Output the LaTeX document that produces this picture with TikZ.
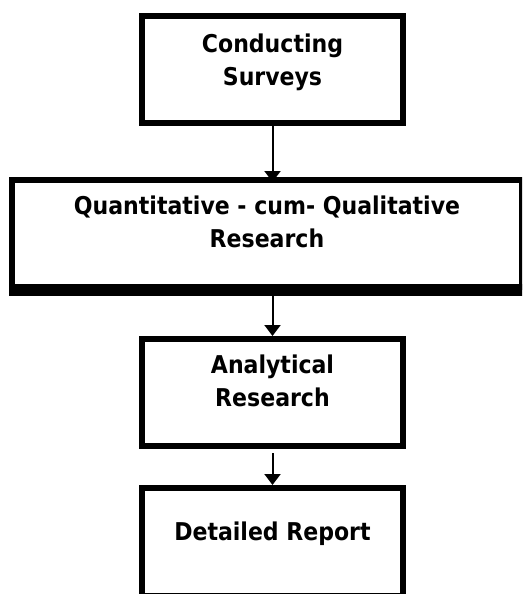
\documentclass[tikz,border=0pt]{standalone}
\usepackage{fontspec}
\setmainfont{DejaVu Sans Condensed}
\usetikzlibrary{arrows.meta}
\begin{document}
\begin{tikzpicture}[x=1pt,y=-1pt,
  box/.style={draw=black,line width=6pt,rectangle,inner sep=0pt,outer sep=0pt,fill=white},
  txt/.style={align=center,inner sep=0pt,outer sep=0pt,anchor=north,font=\bfseries\fontsize{24.5}{33}\selectfont},
  conn/.style={line width=2pt,-{Triangle[length=11pt,width=16pt]}}]
\useasboundingbox[fill=white] (0,0) rectangle (522,594);
\begin{scope}
\clip (0,0) rectangle (522,594);
% boxes
\node[box,minimum width=261pt,minimum height=107pt] (b1) at (272.5,69.5) {};
\node[box,minimum width=510pt,minimum height=107pt] (b2) at (267,233.5) {};
\fill[black] ([xshift=-3pt,yshift=3pt]b2.south west) rectangle ([xshift=3pt,yshift=-9pt]b2.south east);
\node[box,minimum width=261pt,minimum height=107pt] (b3) at (272.5,392.5) {};
\node[box,minimum width=261pt,minimum height=108pt] (b4) at (272.5,542) {};
% texts
\node[txt] (t1) at (272.5,33.5) {Conducting\\Surveys};
\node[txt] (t2) at (267,195.5) {Quantitative - cum- Qualitative\\Research};
\node[txt] (t3) at (272.5,355) {Analytical\\Research};
\node[txt] (t4) at (272.5,522) {Detailed Report};
% connectors
\coordinate (a1) at ([yshift=-2pt]b1.south |- b2.north);
\coordinate (a2) at (b3.north |- b2.south);
\draw[conn] (b1.south) -- (a1);
\draw[conn,shorten <=9pt,shorten >=3pt] (a2) -- (b3.north);
\draw[conn,shorten <=7pt,shorten >=3pt] (b3.south) -- (b4.north);
\end{scope}
\end{tikzpicture}
\end{document}
